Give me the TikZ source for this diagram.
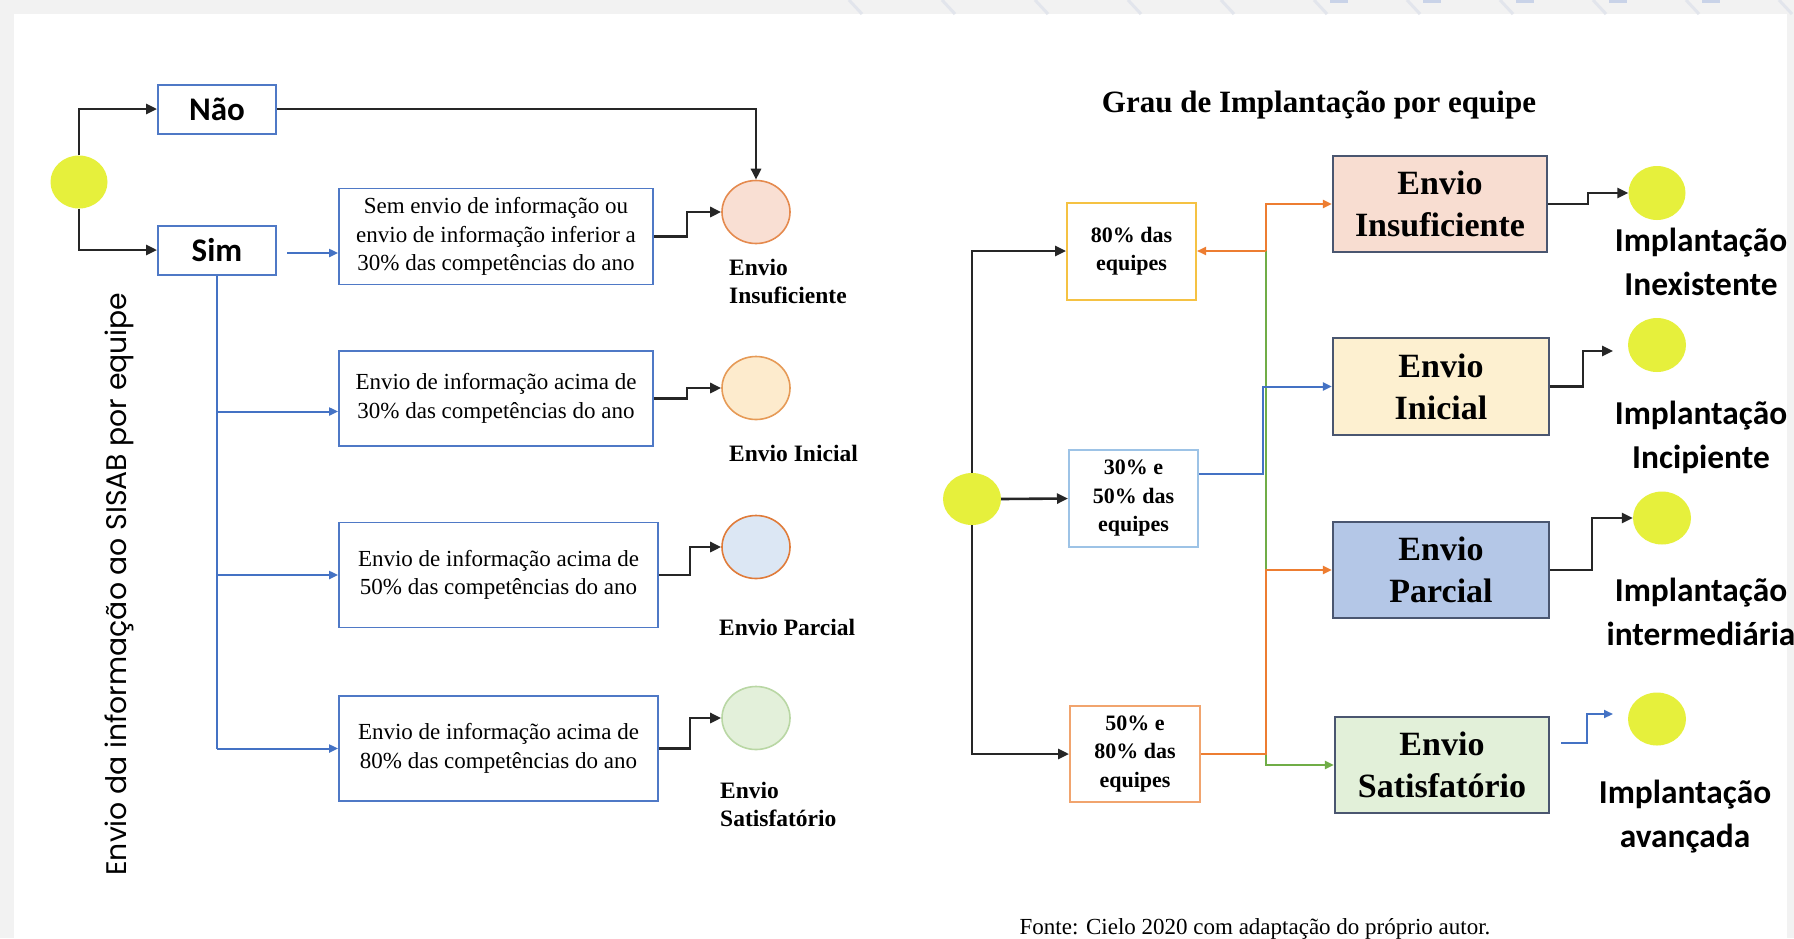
\documentclass[tikz,border=0pt]{standalone}
\usepackage{fontspec}
\usetikzlibrary{arrows.meta,shapes.geometric}
\newfontfamily\tmsfont{Liberation Serif}
\newfontfamily\carlfont{Carlito}
\newfontfamily\popfont{Poppins}
\definecolor{bggray}{HTML}{F2F2F2}
\definecolor{diagc}{HTML}{E2E5EC}
\definecolor{topblue}{HTML}{C9D3E8}
\definecolor{ylw}{HTML}{E6F03C}
\definecolor{lblue}{HTML}{4F79C6}
\definecolor{rbord}{HTML}{4A5670}
\definecolor{cIf}{HTML}{F9DFD3}\definecolor{cId}{HTML}{E58A4E}
\definecolor{cNf}{HTML}{FDEBCD}\definecolor{cNd}{HTML}{E69A56}
\definecolor{cPf}{HTML}{DCE7F4}\definecolor{cPd}{HTML}{E07B39}
\definecolor{cSf}{HTML}{E3F0DA}\definecolor{cSd}{HTML}{B9D7A4}
\definecolor{fI}{HTML}{F8DDD1}
\definecolor{fN}{HTML}{FDF0D0}
\definecolor{fP}{HTML}{B4C7E7}
\definecolor{fS}{HTML}{E2F0D9}
\definecolor{gold}{HTML}{F5C243}
\definecolor{skyb}{HTML}{9DC3E6}
\definecolor{orgb}{HTML}{F1A46E}
\definecolor{orgl}{HTML}{ED7D31}
\definecolor{grnl}{HTML}{70AD47}
\definecolor{blul}{HTML}{4472C4}
\begin{document}
\begin{tikzpicture}[x=1pt,y=-1pt,
  tipk/.style={-{Triangle[length=11pt,width=10pt]}},
  tips/.style={-{Triangle[length=9pt,width=8pt]}},
  blk/.style={draw=black!85,line width=2.6pt,tipk},
  blu/.style={draw=blul,line width=2pt,tips},
  org/.style={draw=orgl,line width=2pt,tips},
  grn/.style={draw=grnl,line width=2pt,tips},
  ynbox/.style={draw=lblue,line width=2pt,fill=white,minimum width=118pt,minimum height=49pt,inner sep=0pt,font=\carlfont\bfseries\fontsize{33}{33}\selectfont},
  lbox/.style={draw=lblue,line width=1.8pt,fill=white,inner sep=0pt,align=center,font=\tmsfont\fontsize{23}{28.5}\selectfont},
  rbox/.style={draw=rbord,line width=2.2pt,inner sep=0pt,align=center,minimum width=214pt,minimum height=96pt,font=\tmsfont\bfseries\fontsize{34}{42}\selectfont},
  sbox/.style={line width=2pt,fill=white,inner sep=0pt,align=center,minimum width=129pt,minimum height=97pt,font=\tmsfont\bfseries\fontsize{22}{28.5}\selectfont},
  dot/.style={ellipse,inner sep=0pt},
  lab/.style={font=\tmsfont\bfseries\fontsize{23.5}{28}\selectfont,align=left,inner sep=0pt,anchor=west},
  ilab/.style={font=\carlfont\bfseries\fontsize{33.4}{44}\selectfont,align=center,inner sep=0pt}]
\useasboundingbox (0,0) rectangle (1794,938);
% background
\fill[bggray] (0,0) rectangle (1794,938);
\fill[white] (14,14) rectangle (1787,938);
\foreach \i in {0,...,10} \draw[diagc,line width=3pt] ({849+93*\i},0) -- ({862+93*\i},14);
\foreach \x in {1330,1423,1516,1609,1702} \fill[topblue] (\x,0) rectangle ({\x+18},3);

% ---------------- left diagram ----------------
\node[dot,fill=ylw,minimum width=57pt,minimum height=53pt] (y0) at (79,182) {};
\node[ynbox] (nao) at (217,109) {Não};
\node[ynbox] (sim) at (217,250) {Sim};
\node[lbox,minimum width=314pt,minimum height=96pt] (box1) at (496,236.5) {Sem envio de informação ou\\envio de informação inferior a\\30\% das competências do ano};
\node[lbox,minimum width=314pt,minimum height=95pt] (box2) at (496,398.5) {Envio de informação acima de\\30\% das competências do ano};
\node[lbox,minimum width=319pt,minimum height=105pt] (box3) at (498.5,575) {Envio de informação acima de\\50\% das competências do ano};
\node[lbox,minimum width=319pt,minimum height=105pt] (box4) at (498.5,748.5) {Envio de informação acima de\\80\% das competências do ano};
\node[dot,fill=cIf,draw=cId,line width=1.6pt,minimum width=68pt,minimum height=63pt] (c1) at (756,212) {};
\node[dot,fill=cNf,draw=cNd,line width=1.6pt,minimum width=68pt,minimum height=63pt] (c2) at (756,388) {};
\node[dot,fill=cPf,draw=cPd,line width=1.6pt,minimum width=68pt,minimum height=63pt] (c3) at (756,547) {};
\node[dot,fill=cSf,draw=cSd,line width=1.6pt,minimum width=68pt,minimum height=63pt] (c4) at (756,718) {};
\node[lab] (l1) at (729,281) {Envio\\Insuficiente};
\node[lab] (l2) at (729,453) {Envio Inicial};
\node[lab] (l3) at (719,627) {Envio Parcial};
\node[lab] (l4) at (720,804) {Envio\\Satisfatório};
\node[rotate=90,inner sep=0pt,font=\popfont\fontsize{28.3}{28.3}\selectfont] (vt) at (119,584) {Envio da informação ao SISAB por equipe};

\draw[blk] (y0.north) |- (nao.west);
\draw[blk] (y0.south) |- (sim.west);
\draw[blk] (nao.east) -| (c1.north);
\coordinate (s1) at (287,253);
\draw[blu] (s1) -- (s1 -| box1.west);
\coordinate (b2in) at ([yshift=-13pt]box2.west);
\draw[blu,-] (sim.south) -- (sim.south |- box4.west);
\draw[blu] (sim.south |- b2in) -- (b2in);
\draw[blu] (sim.south |- box3.west) -- (box3.west);
\draw[blu] (sim.south |- box4.west) -- (box4.west);
\draw[blk] (box1.east) -- ++(33,0) |- (c1.west);
\draw[blk] (box2.east) -- ++(33,0) |- (c2.west);
\draw[blk] (box3.east) -- ++(31,0) |- (c3.west);
\draw[blk] (box4.east) -- ++(31,0) |- (c4.west);

% ---------------- right diagram ----------------
\node[font=\tmsfont\bfseries\fontsize{31}{34}\selectfont,inner sep=0pt] (title) at (1319,105) {Grau de Implantação por equipe};
\node[dot,fill=ylw,minimum width=58pt,minimum height=52pt] (y1) at (972,499) {};
\node[sbox,draw=gold] (bA) at (1131.5,251) {80\% das\\equipes};
\node[sbox,draw=skyb] (bB) at (1133.5,498.5) {30\% e\\50\% das\\equipes};
\node[sbox,draw=orgb,minimum width=130pt,minimum height=96pt] (bC) at (1135,754) {50\% e\\80\% das\\equipes};
\node[rbox,fill=fI] (eI) at (1440,204) {Envio\\Insuficiente};
\node[rbox,fill=fN,minimum width=216pt,minimum height=97pt] (eIn) at (1441,386.5) {Envio\\Inicial};
\node[rbox,fill=fP,minimum width=216pt] (eP) at (1441,570) {Envio\\Parcial};
\node[rbox,fill=fS] (eS) at (1442,765) {Envio\\Satisfatório};
\node[dot,fill=ylw,minimum width=57pt,minimum height=54pt] (r1) at (1657,193) {};
\node[dot,fill=ylw,minimum width=58pt,minimum height=54pt] (r2) at (1657,345) {};
\node[dot,fill=ylw,minimum width=58pt,minimum height=53pt] (r3) at (1662,518) {};
\node[dot,fill=ylw,minimum width=58pt,minimum height=53pt] (r4) at (1657,719) {};
\node[ilab] (i1) at (1701,262) {Implantação\\Inexistente};
\node[ilab] (i2) at (1701,437) {Implantação\\Incipiente};
\node[ilab] (i3) at (1701,612) {Implantação\\intermediária};
\node[ilab] (i4) at (1685,817) {Implantação\\avançada};
\node[font=\tmsfont\fontsize{23}{26}\selectfont,anchor=base,inner sep=0pt] (fonte) at (1255,934) {Fonte: Cielo 2020 com adaptação do próprio autor.};

\draw[blk] (y1.east) -- (bB.west);
\draw[blk] (y1.north) |- (bA.west);
\draw[blk] (y1.south) |- (bC.west);
\coordinate (jA) at ([xshift=69pt]bA.east);
\draw[grn] (jA) |- (eS.west);
\draw[org] (jA) -- (bA.east);
\draw[org] (jA) |- (eI.west);
\coordinate (bBout) at ([yshift=24.5pt]bB.east);
\draw[blu] (bBout) -- ++(64,0) |- (eIn.west);
\draw[org] (bC.east) -| (jA |- eP.west) -- (eP.west);
\draw[blk] (eI.east) -- ++(40,0) |- (r1.west);
\coordinate (e2) at (1613,351);
\draw[blk] (eIn.east) -- ++(33,0) |- (e2);
\draw[blk] (eP.east) -- ++(42,0) |- (r3.west);
\coordinate (s4) at (1561,743);
\coordinate (e4) at (1613,714);
\draw[blu] (s4) -- ++(26,0) |- (e4);
\end{tikzpicture}
\end{document}
